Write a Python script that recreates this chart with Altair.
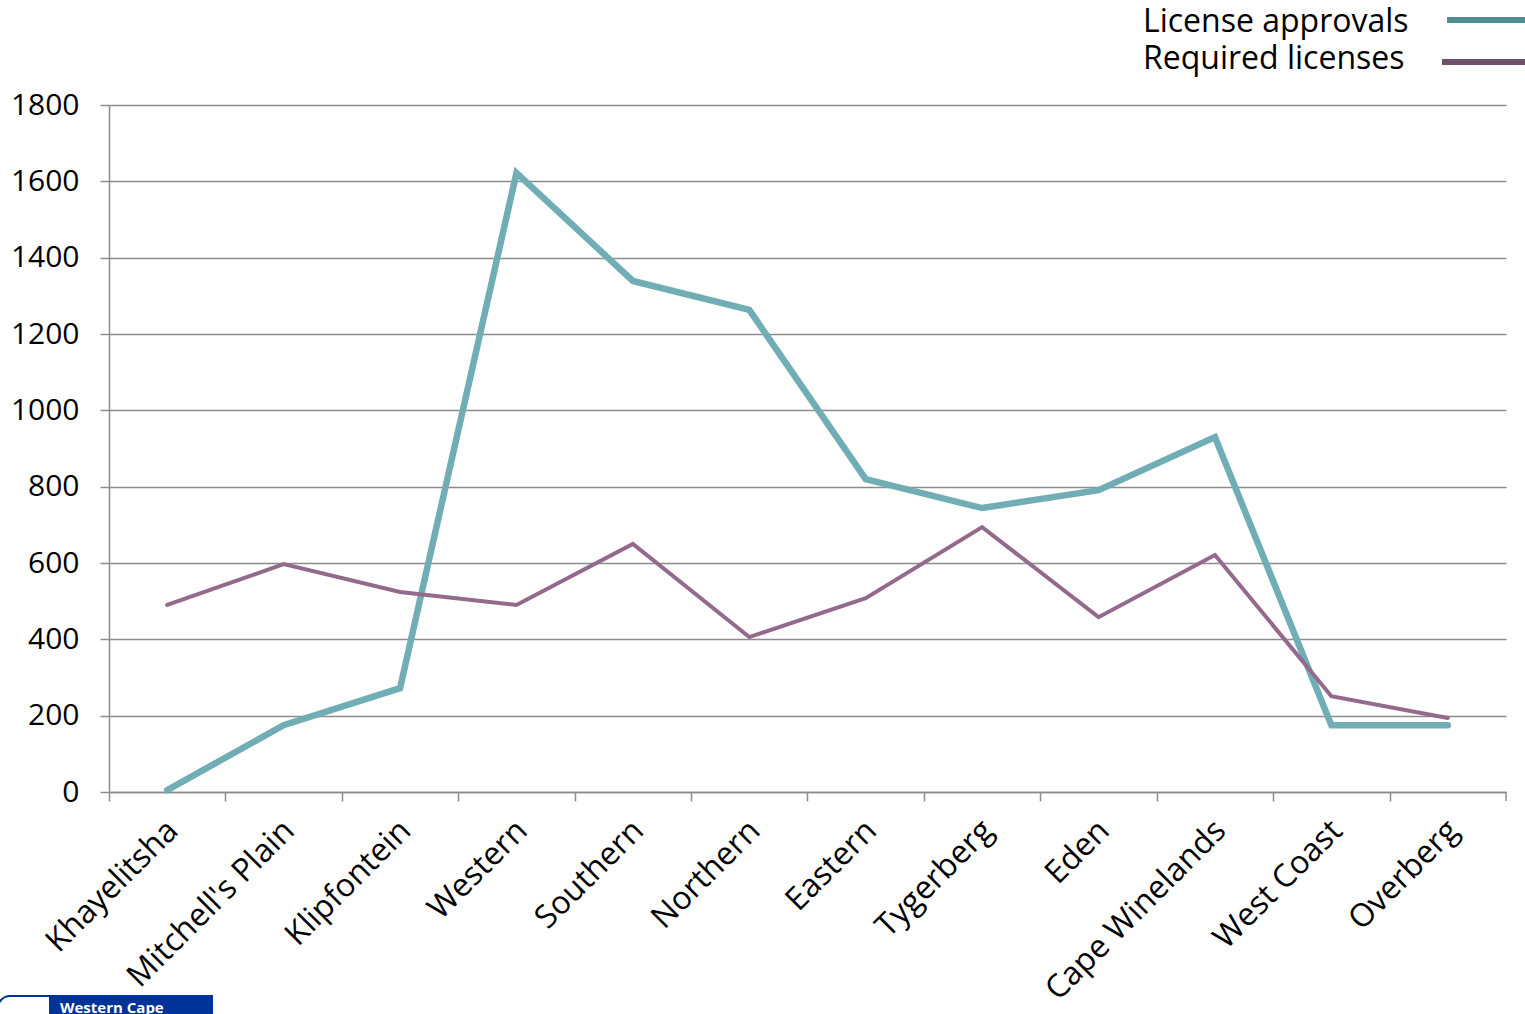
import altair as alt
import pandas as pd

categories = ["Khayelitsha", "Mitchell's Plain", "Klipfontein", "Western", "Southern",
              "Northern", "Eastern", "Tygerberg", "Eden", "Cape Winelands",
              "West Coast", "Overberg"]
license_approvals = [5, 175, 272, 1622, 1339, 1263, 820, 744, 791, 930, 175, 175]
required_licenses = [490, 597, 524, 490, 650, 406, 508, 694, 458, 621, 251, 194]
series_names = ["License approvals", "Required licenses"]
y_ticks = [0, 200, 400, 600, 800, 1000, 1200, 1400, 1600, 1800]
logo_text = ["Western Cape"]

W, H = 1397, 687
STEP = W / len(categories)
FONT = "Open Sans"
TEAL = "#70adb4"
PURPLE = "#946a8c"
GRID = "#8c8c8c"

df = pd.DataFrame({
    "district": categories * 2,
    "value": license_approvals + required_licenses,
    "series": [series_names[0]] * len(categories) + [series_names[1]] * len(categories),
})

x_enc = alt.X("district:N", sort=categories,
              scale=alt.Scale(type="point", padding=0.5),
              axis=alt.Axis(title=None, labelAngle=-45, labelAlign="right",
                            labelBaseline="middle", labelLimit=0,
                            labelFontSize=32, labelFont=FONT, labelColor="black",
                            labelPadding=24, tickOffset=-STEP / 2,
                            labelOffset=STEP / 2 + 5,
                            tickSize=9, tickColor=GRID, tickWidth=1.5,
                            domainColor=GRID, domainWidth=1.5, grid=False))
y_enc = alt.Y("value:Q", scale=alt.Scale(domain=[0, 1800], nice=False),
              axis=alt.Axis(title=None, values=y_ticks, format="d", labelFontSize=30,
                            labelFont=FONT, labelColor="black", labelPadding=21,
                            tickSize=9, tickColor=GRID, tickWidth=1.5,
                            domainColor=GRID, domainWidth=1.5,
                            grid=True, gridColor=GRID, gridWidth=1.5))

base = alt.Chart(df)
line_a = base.transform_filter(alt.datum.series == series_names[0]).mark_line(
    color=TEAL, strokeWidth=6.5, strokeCap="round", strokeJoin="miter").encode(x=x_enc, y=y_enc)
line_b = base.transform_filter(alt.datum.series == series_names[1]).mark_line(
    color=PURPLE, strokeWidth=4, strokeCap="round", strokeJoin="miter").encode(x=x_enc, y=y_enc)

last_tick = alt.Chart(pd.DataFrame({"k": [0]})).mark_rule(color=GRID, strokeWidth=1.5).encode(
    x=alt.value(W), y=alt.value(H), y2=alt.value(H + 9))

leg_df = pd.DataFrame({"series": series_names})
leg_text_a = alt.Chart(leg_df).transform_filter(alt.datum.series == series_names[0]).mark_text(
    align="left", baseline="alphabetic", fontSize=32, font=FONT, color="black").encode(
    x=alt.value(1143 - 109), y=alt.value(32 - 105), text="series:N")
leg_text_b = alt.Chart(leg_df).transform_filter(alt.datum.series == series_names[1]).mark_text(
    align="left", baseline="alphabetic", fontSize=32, font=FONT, color="black").encode(
    x=alt.value(1143 - 109), y=alt.value(69 - 105), text="series:N")
leg_rule_a = alt.Chart(leg_df).transform_filter(alt.datum.series == series_names[0]).mark_rule(
    color="#4e8c92", strokeWidth=6).encode(
    x=alt.value(1447 - 109), x2=alt.value(1525 - 109), y=alt.value(20 - 105))
leg_rule_b = alt.Chart(leg_df).transform_filter(alt.datum.series == series_names[1]).mark_rule(
    color="#6e5068", strokeWidth=6).encode(
    x=alt.value(1442 - 109), x2=alt.value(1525 - 109), y=alt.value(62 - 105))

logo_df = pd.DataFrame({"t": logo_text})
logo_box = alt.Chart(logo_df).mark_rect(color="#003399").encode(
    x=alt.value(50 - 109), x2=alt.value(213 - 109), y=alt.value(995 - 105), y2=alt.value(1014 - 105))
logo_outline = alt.Chart(logo_df).mark_rect(fill="white", stroke="#003399", strokeWidth=2,
                                            cornerRadiusTopLeft=12).encode(
    x=alt.value(-2 - 109), x2=alt.value(50 - 109), y=alt.value(996 - 105), y2=alt.value(1020 - 105))
logo_txt = alt.Chart(logo_df).mark_text(align="left", baseline="alphabetic", fontSize=15,
                                        fontWeight="bold", font=FONT, color="white").encode(
    x=alt.value(60 - 109), y=alt.value(1013 - 105), text="t:N")

chart = alt.layer(line_a, line_b, last_tick, leg_text_a, leg_text_b, leg_rule_a, leg_rule_b,
                  logo_box, logo_outline, logo_txt).properties(
    width=W, height=H,
    autosize=alt.AutoSizeParams(type="none"),
    padding={"left": 109, "top": 105, "right": 1525 - 109 - W, "bottom": 1014 - 105 - H},
    background="white",
).configure_view(stroke=None)

chart.save("out.html", embed_options={"renderer": "svg", "actions": False})
